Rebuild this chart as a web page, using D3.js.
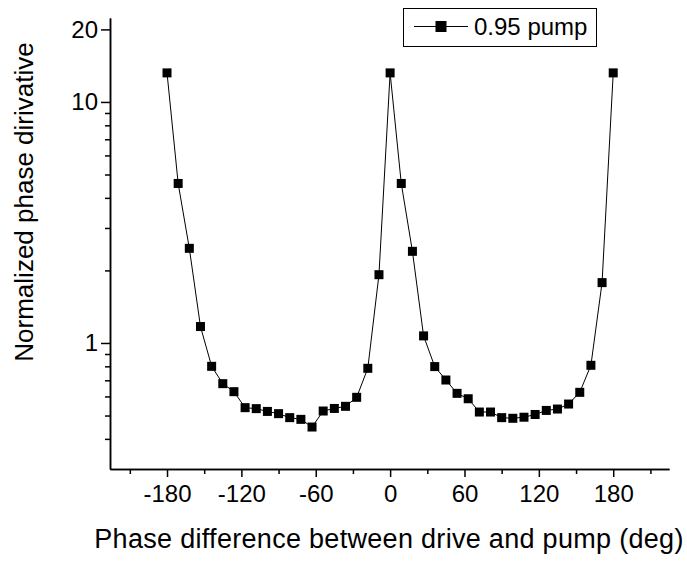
<!DOCTYPE html>
<html>
<head>
<meta charset="utf-8">
<script src="https://cdn.jsdelivr.net/npm/d3@7"></script>
<style>
    body { margin: 0; background: #fff; }
    text { font-family: "Liberation Sans", Arial, sans-serif; fill: #000; }
</style>
</head>
<body>
<div id="chart"></div>
<script>
// phase difference (deg) and normalized phase derivative
const phase = [-180, -171, -162, -153, -144, -135, -126, -117, -108, -99, -90, -81, -72, -63, -54, -45, -36, -27, -18, -9,
    0, 9, 18, 27, 36, 45, 54, 63, 72, 81, 90, 99, 108, 117, 126, 135, 144, 153, 162, 171, 180];
const derivative = [13.2, 4.59, 2.47, 1.17, 0.80, 0.678, 0.628, 0.539, 0.534, 0.520, 0.509, 0.490, 0.482, 0.448, 0.522, 0.535, 0.546, 0.595, 0.785, 1.92,
    13.2, 4.59, 2.40, 1.07, 0.798, 0.702, 0.618, 0.587, 0.517, 0.517, 0.490, 0.487, 0.492, 0.505, 0.525, 0.532, 0.558, 0.624, 0.808, 1.78, 13.2];

const xMajor = [-180, -120, -60, 0, 60, 120, 180];
const xMinor = [-210, -150, -90, -30, 30, 90, 150, 210];
const yMajor = [1, 10, 20];
const yMinor = [0.4, 0.5, 0.6, 0.7, 0.8, 0.9, 2, 3, 4, 5, 6, 7, 8, 9];
const seriesName = "0.95 pump";

// set the dimensions and margins of the graph
const margin = {top: 18, right: 18, bottom: 93, left: 110},
    width = 687 - margin.left - margin.right,
    height = 562 - margin.top - margin.bottom;

const svg = d3.select("#chart")
    .append("svg")
    .attr("width", 687)
    .attr("height", 562)
    .append("g")
    .attr("transform", `translate(${margin.left},${margin.top})`);

const x = d3.scaleLinear()
    .domain([-226, 225])
    .range([0, width]);

const y = d3.scaleLog()
    .domain([0.3, 22.3])
    .range([height, 0]);

// minor ticks first, then major ticks with labels (plain hyphen for negatives)
svg.append("g")
    .attr("transform", `translate(0,${height})`)
    .call(d3.axisBottom(x).tickValues(xMinor).tickSize(5).tickSizeOuter(0).tickFormat(""));
svg.append("g")
    .attr("transform", `translate(0,${height})`)
    .call(d3.axisBottom(x).tickValues(xMajor).tickSize(8).tickPadding(8).tickSizeOuter(0).tickFormat(d => String(d)));

svg.append("g")
    .call(d3.axisLeft(y).tickValues(yMinor).tickSize(5).tickSizeOuter(0).tickFormat(""));
svg.append("g")
    .call(d3.axisLeft(y).tickValues(yMajor).tickSize(9).tickPadding(3).tickSizeOuter(0).tickFormat(d => String(d)));

svg.selectAll(".domain").attr("stroke-width", 1.5);
svg.selectAll(".tick line").attr("stroke-width", 1.5);
svg.selectAll(".tick text").style("font-size", "24px");

// line and square markers
const points = phase.map((p, i) => ({p: p, v: derivative[i]}));

svg.append("path")
    .datum(points)
    .attr("fill", "none")
    .attr("stroke", "#000")
    .attr("stroke-width", 1)
    .attr("d", d3.line().x(d => x(d.p)).y(d => y(d.v)));

const ms = 9;
svg.selectAll("rect.marker")
    .data(points)
    .enter()
    .append("rect")
    .attr("class", "marker")
    .attr("x", d => x(d.p) - ms / 2)
    .attr("y", d => y(d.v) - ms / 2)
    .attr("width", ms)
    .attr("height", ms)
    .attr("fill", "#000");

// axis titles
svg.append("text")
    .attr("x", 389 - margin.left)
    .attr("y", 548 - margin.top)
    .attr("text-anchor", "middle")
    .style("font-size", "27px")
    .style("letter-spacing", "0.3px")
    .text("Phase difference between drive and pump (deg)");

svg.append("text")
    .attr("transform", `translate(${33 - margin.left},${202 - margin.top})rotate(-90)`)
    .attr("text-anchor", "middle")
    .style("font-size", "26px")
    .text("Normalized phase dirivative");

// legend
const legend = d3.select("#chart svg").append("g");
legend.append("rect")
    .attr("x", 403.5)
    .attr("y", 8.5)
    .attr("width", 193)
    .attr("height", 38)
    .attr("fill", "#fff")
    .attr("stroke", "#000")
    .attr("stroke-width", 1);
legend.append("line")
    .attr("x1", 414).attr("x2", 468)
    .attr("y1", 26.5).attr("y2", 26.5)
    .attr("stroke", "#000");
legend.append("rect")
    .attr("x", 441 - 5.5)
    .attr("y", 26.5 - 5.5)
    .attr("width", 11)
    .attr("height", 11)
    .attr("fill", "#000");
legend.append("text")
    .attr("x", 474)
    .attr("y", 35)
    .style("font-size", "24px")
    .text(seriesName);
</script>
</body>
</html>
